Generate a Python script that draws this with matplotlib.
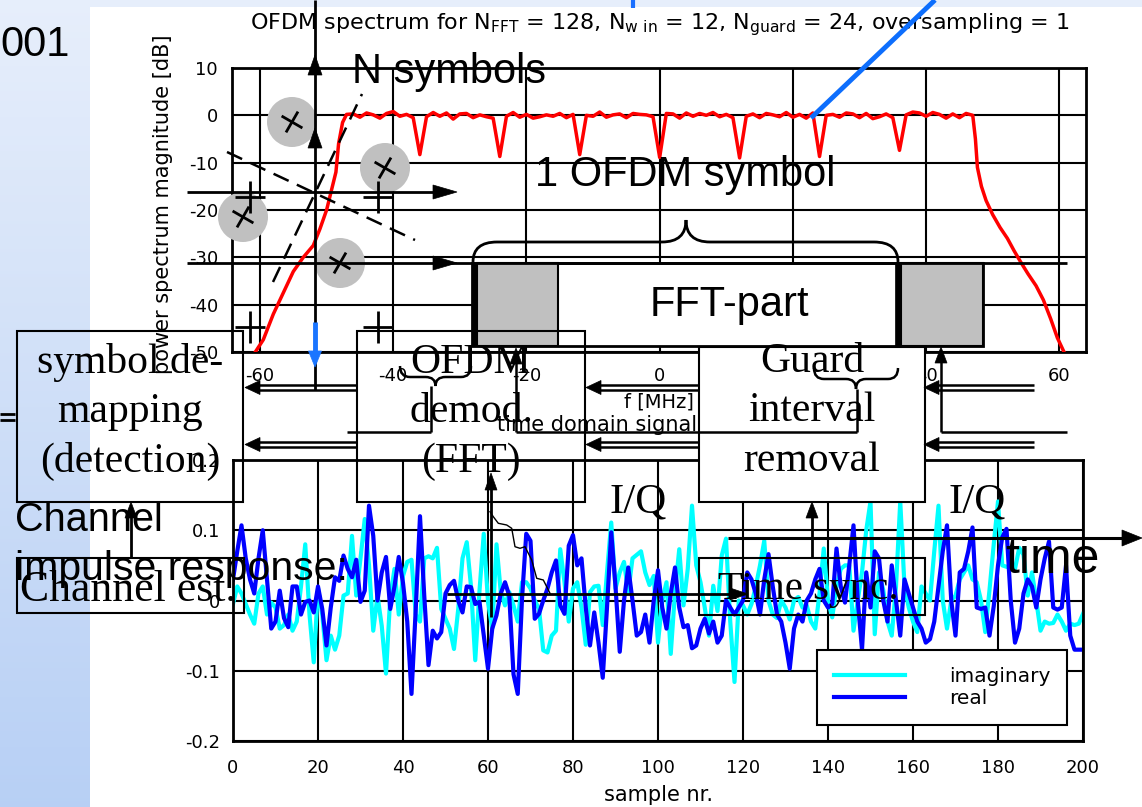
import numpy as np
import matplotlib
matplotlib.use('Agg')
import matplotlib.pyplot as plt
from matplotlib.patches import Rectangle, Circle, Polygon, PathPatch
from matplotlib.path import Path

plt.rcParams['font.family'] = ['DejaVu Sans']
plt.rcParams['axes.unicode_minus'] = False
plt.rcParams['lines.scale_dashes'] = False
SANS = ['Liberation Sans', 'DejaVu Sans']
SERIF = ['Liberation Serif', 'DejaVu Serif']

# ---------------- data ----------------
# OFDM spectrum (top panel)
freq_rise = [-60.7, -59.5, -58.0, -56.5, -55.0, -53.5, -52.0, -51.0, -50.0, -49.3, -48.6, -48.2, -47.6, -47.0]
db_rise = [-50.0, -47.4, -42.0, -37.5, -33.0, -30.0, -27.5, -24.0, -20.0, -16.0, -12.0, -6.0, -1.5, 0.2]
freq_flat = list(range(-46, 47))
db_flat = [0.3, -0.4, 0.5, 0.1, -0.6, 0.4, 0.8, -0.2, 0.2, -0.5,
           -8.3, -0.3, 0.6, -0.2, 0.5, -0.8, 0.3, 0.4, -0.5, 0.1,
           -0.3, -0.6, -8.7, -0.2, 0.6, -0.4, 0.2, -0.6, -0.3, 0.1,
           -0.2, 0.4, -0.5, 0.2, -8.3, 0.0, -0.2, 0.7, -0.4, 0.1,
           0.3, -0.5, 0.4, 0.2, 0.1, -0.3, -8.9, 0.4, 0.3, -0.6,
           0.5, -0.2, 0.4, 0.0, 0.6, -0.3, 0.2, -0.5, -9.0, -0.2,
           0.3, -0.5, 0.4, 0.1, -0.3, 0.6, -0.4, 0.2, -0.6, 0.5,
           -8.7, 0.0, 0.2, -0.4, 0.5, 0.3, -0.5, 0.4, -0.7, -0.3,
           0.3, -0.5, -7.4, 0.1, 0.7, 0.5, -0.2, 0.6, 0.2, -0.6,
           0.3, -0.5, 0.4]
freq_fall = [47.0, 47.4, 47.7, 48.3, 49.0, 50.0, 51.1, 52.2, 53.2, 54.2, 55.3, 56.5, 57.6, 58.7, 59.7, 60.7]
db_fall = [0.0, -5.0, -11.0, -15.0, -18.0, -21.0, -23.7, -26.0, -28.6, -31.0, -33.5, -36.0, -39.0, -43.0, -47.0, -50.0]

f_ticks = [-60, -40, -20, 0, 20, 40, 60]
db_ticks = [-50, -40, -30, -20, -10, 0, 10]

# time domain signal (bottom panel), samples 0..200
real_vals = [0.03, 0.07, 0.107, 0.06, 0.03, 0.01, 0.06, 0.10, 0.03, -0.04,
             -0.03, 0.014, -0.025, -0.038, 0.02, 0.02, -0.02, -0.002, 0.0, -0.017,
             0.02, -0.012, -0.064, -0.01, 0.033, 0.028, 0.064, 0.045, 0.033, 0.058,
             -0.002, 0.014, 0.135, 0.092, 0.0, 0.04, 0.062, -0.012, 0.02, 0.062,
             0.025, -0.03, -0.133, -0.012, 0.12, 0.007, -0.092, -0.043, -0.054, -0.045,
             0.01, 0.022, 0.028, 0.0, -0.017, 0.02, 0.019, -0.005, -0.002, -0.05,
             -0.097, -0.04, -0.021, 0.01, 0.026, 0.007, -0.105, -0.133, 0.002, 0.095,
             0.085, -0.026, -0.019, 0.0, 0.017, 0.04, 0.057, -0.007, -0.019, 0.078,
             0.093, 0.05, 0.06, -0.01, -0.064, -0.017, -0.06, -0.11, -0.01, 0.097,
             0.02, -0.073, 0.0, 0.047, 0.0, -0.05, -0.045, -0.02, -0.06, 0.0,
             0.043, -0.01, -0.04, 0.01, 0.047, -0.01, -0.038, -0.035, -0.068, -0.064,
             -0.04, -0.026, -0.047, -0.03, -0.06, -0.05, 0.0, -0.01, -0.02, -0.01,
             0.0, 0.04, 0.03, 0.01, -0.02, 0.03, 0.066, 0.02, -0.02, -0.03,
             -0.06, -0.097, -0.04, -0.02, -0.03, 0.0, 0.01, 0.03, 0.045, 0.0,
             -0.01, -0.005, 0.074, 0.02, -0.003, 0.05, 0.107, 0.0, -0.07, 0.04,
             -0.01, 0.07, 0.06, 0.0, -0.03, 0.05, 0.0, -0.05, 0.03, 0.01,
             -0.01, -0.03, -0.04, -0.06, -0.055, -0.03, 0.02, 0.07, 0.107, 0.0,
             -0.05, 0.04, 0.045, 0.07, 0.104, -0.01, -0.012, -0.01, -0.05, -0.008,
             0.05, 0.09, 0.102, 0.0, -0.06, -0.04, 0.01, 0.03, 0.02, -0.01,
             0.03, 0.06, 0.084, -0.01, -0.013, -0.01, 0.05, -0.05, -0.07, -0.07,
             -0.07]
imag_vals = [-0.005, 0.02, 0.01, -0.005, -0.02, -0.033, 0.01, 0.02, -0.02, -0.003,
             -0.01, -0.04, -0.035, -0.02, -0.043, -0.03, 0.02, 0.08, -0.02, -0.088,
             0.017, -0.02, -0.085, -0.05, -0.07, -0.05, 0.007, 0.01, 0.092, 0.007,
             0.06, 0.116, 0.05, -0.043, 0.007, -0.036, -0.104, 0.005, 0.045, -0.02,
             0.035, 0.055, 0.058, -0.02, -0.03, 0.06, 0.063, 0.06, 0.075, -0.012,
             -0.026, -0.04, -0.069, -0.012, 0.06, 0.083, 0.02, -0.085, 0.014, 0.095,
             -0.002, -0.04, 0.08, 0.012, -0.007, 0.012, -0.007, -0.03, 0.026, 0.026,
             0.017, 0.0, -0.012, -0.071, -0.074, -0.05, -0.043, 0.073, 0.026, -0.03,
             0.017, 0.026, -0.01, -0.063, 0.012, 0.02, 0.021, -0.035, 0.04, 0.111,
             0.017, 0.04, 0.055, 0.012, 0.06, 0.065, 0.07, 0.04, 0.022, 0.035,
             -0.06, 0.0, 0.026, -0.076, 0.012, 0.073, -0.007, 0.045, 0.135, 0.05,
             0.026, -0.01, -0.05, 0.021, -0.015, 0.064, 0.088, -0.03, -0.116, 0.0,
             -0.007, -0.02, -0.005, 0.02, 0.05, 0.085, 0.0, -0.02, -0.025, 0.0,
             -0.01, -0.027, 0.0, 0.005, -0.01, -0.007, -0.03, -0.04, 0.01, 0.074,
             0.0, -0.024, 0.02, 0.045, 0.05, 0.05, -0.043, 0.0, 0.04, 0.1,
             0.141, -0.048, 0.04, 0.015, -0.03, -0.05, 0.02, 0.141, 0.02, -0.01,
             -0.03, -0.045, 0.02, 0.01, 0.0, 0.07, 0.135, 0.0, -0.04, 0.0,
             0.007, 0.03, 0.04, 0.05, 0.03, 0.026, 0.0, -0.045, 0.015, 0.08,
             0.141, 0.05, 0.048, 0.046, 0.045, 0.075, 0.065, 0.007, 0.04, 0.0,
             -0.043, -0.03, -0.033, -0.032, -0.02, -0.03, -0.043, -0.033, -0.035, -0.033,
             -0.019]
sample_nr = list(range(len(real_vals)))
s_ticks = [0, 20, 40, 60, 80, 100, 120, 140, 160, 180, 200]
a_ticks = [-0.2, -0.1, 0.0, 0.1, 0.2]
a_ticklabels = ['-0.2', '-0.1', '0', '0.1', '0.2']
series_names = ['imaginary', 'real']

# ---------------- figure ----------------
W, H = 1142, 807
fig = plt.figure(figsize=(W / 100, H / 100), dpi=100)

# background decoration
bg = fig.add_axes([0, 0, 1, 1], zorder=-10)
bg.set_xlim(0, W); bg.set_ylim(H, 0); bg.axis('off')
grad = np.linspace(0, 1, 256)[:, None]
top_c = np.array([0.905, 0.935, 0.985]); bot_c = np.array([0.72, 0.815, 0.96])
img = top_c[None, None, :] * (1 - grad[:, :, None]) + bot_c[None, None, :] * grad[:, :, None]
bg.imshow(img, extent=[0, 90, H, 0], aspect='auto')
bg.add_patch(Rectangle((90, 0), W - 90, 7, fc='#e6eefb', ec='none'))

def px_rect(l, t, r, b):
    return [l / W, 1 - b / H, (r - l) / W, (b - t) / H]

# ---- top panel ----
ax1 = fig.add_axes(px_rect(232, 68, 1086, 352))
freq = freq_rise + freq_flat + freq_fall
db = db_rise + db_flat + db_fall
ax1.plot(freq, db, color='#ff0000', lw=2.5, zorder=3)
ax1.set_xlim(-64.2, 64.0)
ax1.set_ylim(-50, 10)
ax1.set_xticks(f_ticks)
ax1.set_yticks(db_ticks)
ax1.grid(True, color='k', lw=1.5)
ax1.set_axisbelow(True)
ax1.tick_params(length=0, labelsize=13)
ax1.tick_params(axis='x', pad=11)
ax1.tick_params(axis='y', pad=10)
for s in ax1.spines.values():
    s.set_linewidth(2)
ax1.set_xlabel('f [MHz]', fontsize=14)
ax1.xaxis.set_label_coords(0.5, (352 - 393) / 284)
ax1.set_ylabel('power spectrum magnitude [dB]', fontsize=15)
ax1.yaxis.set_label_coords((173 - 232) / 854, (352 - 204) / 284)
fig.text(660 / W, 1 - 25 / H,
         r'OFDM spectrum for N$_{\mathregular{FFT}}$ = 128, N$_{\mathregular{w\ in}}$ = 12, '
         r'N$_{\mathregular{guard}}$ = 24, oversampling = 1',
         ha='center', va='center', fontsize=16)

# ---- bottom panel ----
ax2 = fig.add_axes(px_rect(233, 460, 1083, 741))
l_im, = ax2.plot(sample_nr, imag_vals, color='#00ffff', lw=3, label=series_names[0])
l_re, = ax2.plot(sample_nr, real_vals, color='#0000ff', lw=3, label=series_names[1])
ax2.set_xlim(0, 200)
ax2.set_ylim(-0.2, 0.2)
ax2.set_xticks(s_ticks)
ax2.set_yticks(a_ticks)
ax2.set_yticklabels(a_ticklabels)
ax2.grid(True, color='k', lw=1.5)
ax2.set_axisbelow(True)
ax2.tick_params(length=0, labelsize=13)
ax2.tick_params(axis='x', pad=13)
ax2.tick_params(axis='y', pad=9)
for s in ax2.spines.values():
    s.set_linewidth(2)
ax2.set_xlabel('sample nr.', fontsize=15)
ax2.xaxis.set_label_coords(0.5, (741 - 785) / 281)
leg = ax2.legend(handles=[l_im, l_re], loc='upper left',
                 bbox_to_anchor=((817 - 233) / 850, (741 - 650) / 281),
                 fontsize=14.5, frameon=True, fancybox=False, framealpha=1,
                 edgecolor='k', handlelength=3.5, handletextpad=2.2,
                 borderpad=0.85, labelspacing=0.15, borderaxespad=0)
leg.get_frame().set_linewidth(1.5)

# ---- diagram overlay ----
ov = fig.add_axes([0, 0, 1, 1], zorder=10)
ov.set_xlim(0, W); ov.set_ylim(H, 0); ov.axis('off')
ov.patch.set_alpha(0)

def line(xs, ys, lw=2, color='k', z=4, **kw):
    ov.plot(xs, ys, color=color, lw=lw, zorder=z, solid_capstyle='butt', **kw)

def head(tx, ty, dx, dy, hl=18, hw=7, color='k', z=5):
    bx, by = tx - dx * hl, ty - dy * hl
    px, py = -dy, dx
    pts = [(tx, ty), (bx + px * hw, by + py * hw), (bx - px * hw, by - py * hw)]
    ov.add_patch(Polygon(pts, closed=True, fc=color, ec=color, lw=0.5, zorder=z))

def dbl_arrow(x_tail, x_tip, y, gap=2.6):
    line([x_tail, x_tip + 12], [y - gap, y - gap], lw=1.8)
    line([x_tail, x_tip + 12], [y + gap, y + gap], lw=1.8)
    head(x_tip, y, -1, 0, hl=15, hw=7)

# gray circles with tilted crosses
for cx, cy in [(292, 122), (385, 168), (243, 217), (340, 263)]:
    ov.add_patch(Circle((cx, cy), 25, fc='#c0c0c0', ec='none', zorder=2))
    c, s = np.cos(np.radians(30)), np.sin(np.radians(30))
    a = 12
    line([cx - a * c, cx + a * c], [cy - a * s, cy + a * s], lw=2, z=3)
    line([cx + a * s, cx - a * s], [cy - a * c, cy + a * c], lw=2, z=3)

# plus marks
for cx, cy in [(250, 197), (378, 197), (250, 327), (378, 327)]:
    line([cx - 15, cx + 15], [cy, cy], lw=2)
    line([cx, cx], [cy - 16, cy + 16], lw=2)

# dashed lines
ov.plot([227, 415], [152, 240], color='k', lw=1.8, dashes=[12, 6.5], zorder=4)
ov.plot([273, 362], [282, 94], color='k', lw=1.8, dashes=[12, 6.5], zorder=4)

# main vertical axis with arrows
line([315, 315], [0, 390])
head(315, 55, 0, -1, hl=20, hw=7)
head(315, 128, 0, -1, hl=20, hw=7)
# horizontal arrows
line([187, 440], [192, 192])
head(457, 192, 1, 0, hl=24, hw=7)
line([187, 1067], [263, 263])
head(457, 263, 1, 0, hl=24, hw=7)

# blue lines
line([633, 633], [0, 8], lw=3, color='#1a6fff')
line([811, 935], [118, 0], lw=3.5, color='#0d6efd')
line([315, 315], [322, 354], lw=3.5, color='#1a75ff', z=6)
head(315, 367, 0, 1, hl=16, hw=6.5, color='#1a75ff', z=6)

# FFT symbol box
ov.add_patch(Rectangle((472, 263), 511, 83, fc='white', ec='k', lw=2, zorder=3))
ov.add_patch(Rectangle((477, 263), 81, 83, fc='#c0c0c0', ec='k', lw=1.5, zorder=3.1))
ov.add_patch(Rectangle((901, 263), 82, 83, fc='#c0c0c0', ec='k', lw=1.5, zorder=3.1))
ov.add_patch(Rectangle((472, 263), 5, 83, fc='k', ec='k', lw=0.5, zorder=3.2))
ov.add_patch(Rectangle((895, 263), 6, 83, fc='k', ec='k', lw=0.5, zorder=3.2))
ov.text(729, 305, 'FFT-part', family=SANS, fontsize=30, ha='center', va='center', zorder=6)

# big brace above the FFT box
verts = [(473, 262), (473, 242), (497, 242), (662, 242), (686, 242), (686, 220),
         (686, 242), (710, 242), (874, 242), (898, 242), (898, 262)]
codes = [Path.MOVETO, Path.CURVE3, Path.CURVE3, Path.LINETO, Path.CURVE3, Path.CURVE3,
         Path.CURVE3, Path.CURVE3, Path.LINETO, Path.CURVE3, Path.CURVE3]
ov.add_patch(PathPatch(Path(verts, codes), fc='none', ec='k', lw=2, zorder=4))

def small_brace(x0, x1, ytop, ymid, ytip):
    xm = (x0 + x1) / 2
    v = [(x0, ytop), (x0, ymid), (x0 + 10, ymid), (xm - 10, ymid), (xm, ymid), (xm, ytip),
         (xm, ymid), (xm + 10, ymid), (x1 - 10, ymid), (x1, ymid), (x1, ytop)]
    ov.add_patch(PathPatch(Path(v, codes), fc='none', ec='k', lw=1.8, zorder=4.5))

# processing blocks
ov.add_patch(Rectangle((17, 331), 226, 171, fc='none', ec='k', lw=1.5, zorder=4))
ov.add_patch(Rectangle((357, 331), 228, 171, fc='none', ec='k', lw=1.5, zorder=4))
ov.add_patch(Rectangle((699, 347), 226, 155, fc='white', ec='k', lw=1.5, zorder=3))
ov.add_patch(Rectangle((17, 558), 227, 55, fc='none', ec='k', lw=1.5, zorder=4))
ov.add_patch(Rectangle((699, 558), 226, 57, fc='none', ec='k', lw=1.5, zorder=4))

small_brace(814, 898, 368, 379, 389)
small_brace(400, 471, 366, 377, 386)
line([857, 857], [389, 432], lw=1.8, z=4.5)
line([431, 431], [386, 432], lw=1.8, z=4.5)
line([516, 857], [432, 432], lw=1.8, z=4.5)
line([347, 431], [432, 432], lw=1.8, z=4.5)
line([516, 516], [432, 362], lw=1.8, z=4.5)
head(516, 348, 0, -1, hl=16, hw=6)
line([941, 1067], [432, 432], lw=1.8)
line([941, 941], [432, 362], lw=1.8)
head(941, 347, 0, -1, hl=16, hw=6)

ov.text(130, 412, 'symbol de-\nmapping\n(detection)', family=SERIF, fontsize=30,
        ha='center', va='center', linespacing=1.37, zorder=6)
ov.text(471, 412, 'OFDM\ndemod.\n(FFT)', family=SERIF, fontsize=30,
        ha='center', va='center', linespacing=1.37, zorder=6)
ov.text(812, 411, 'Guard\ninterval\nremoval', family=SERIF, fontsize=30,
        ha='center', va='center', linespacing=1.37, zorder=6)
ov.text(20, 590, 'Channel est.', family=SERIF, fontsize=31.5, ha='left', va='center', zorder=6)
ov.text(718, 590, 'Time sync.', family=SERIF, fontsize=29.5, ha='left', va='center', zorder=6)
ov.text(638, 502, 'I/Q', family=SERIF, fontsize=31, ha='center', va='center', zorder=6)
ov.text(977, 502, 'I/Q', family=SERIF, fontsize=31, ha='center', va='center', zorder=6)

# double arrows between blocks
for yy in (387.5, 444.5):
    dbl_arrow(357, 245, yy)
    dbl_arrow(699, 586, yy)
    dbl_arrow(1034, 924, yy)

# vertical block arrows
line([131, 131], [558, 516])
head(131, 502, 0, -1, hl=16, hw=6)
line([812, 812], [558, 516])
head(812, 502, 0, -1, hl=16, hw=6)

# channel impulse response sketch
line([491, 491], [617, 488])
head(491, 473, 0, -1, hl=17, hw=6)
line([447, 732], [594, 594], lw=2)
head(748, 594, 1, 0, hl=18, hw=6)
ir_x = [490, 493.3, 498.3, 506.7, 511.7, 515, 520, 525, 531.7, 536.7, 543.3, 546.7, 550]
ir_y = [511.7, 516.7, 523.3, 525, 528.3, 546.7, 548.3, 546.7, 560, 578.3, 580, 586.7, 593.3]
ov.plot(ir_x, ir_y, color='k', lw=1, zorder=4)

# time arrow
line([728, 1124], [538, 538], lw=2.2)
head(1142, 538, 1, 0, hl=20, hw=8)

# "=" fragment
line([0, 15], [414, 414], lw=2)
line([0, 15], [420, 420], lw=2)

# free texts
ov.text(0, 45, '001', family=SANS, fontsize=30, ha='left', va='center', zorder=6)
ov.text(352, 72, 'N symbols', family=SANS, fontsize=30, ha='left', va='center', zorder=6)
ov.text(535, 175, '1 OFDM symbol', family=SANS, fontsize=30, ha='left', va='center', zorder=6)
ov.text(15, 520, 'Channel', family=SANS, fontsize=28.5, ha='left', va='center', zorder=6)
ov.text(15, 569, 'impulse response:', family=SANS, fontsize=29.5, ha='left', va='center', zorder=6)
ov.text(1052, 560, 'time', family=SANS, fontsize=36, ha='center', va='center', zorder=6)
ov.text(697, 425, 'time domain signal', fontsize=15, ha='right', va='center', zorder=2.5)

fig.savefig('out.png', dpi=100)
